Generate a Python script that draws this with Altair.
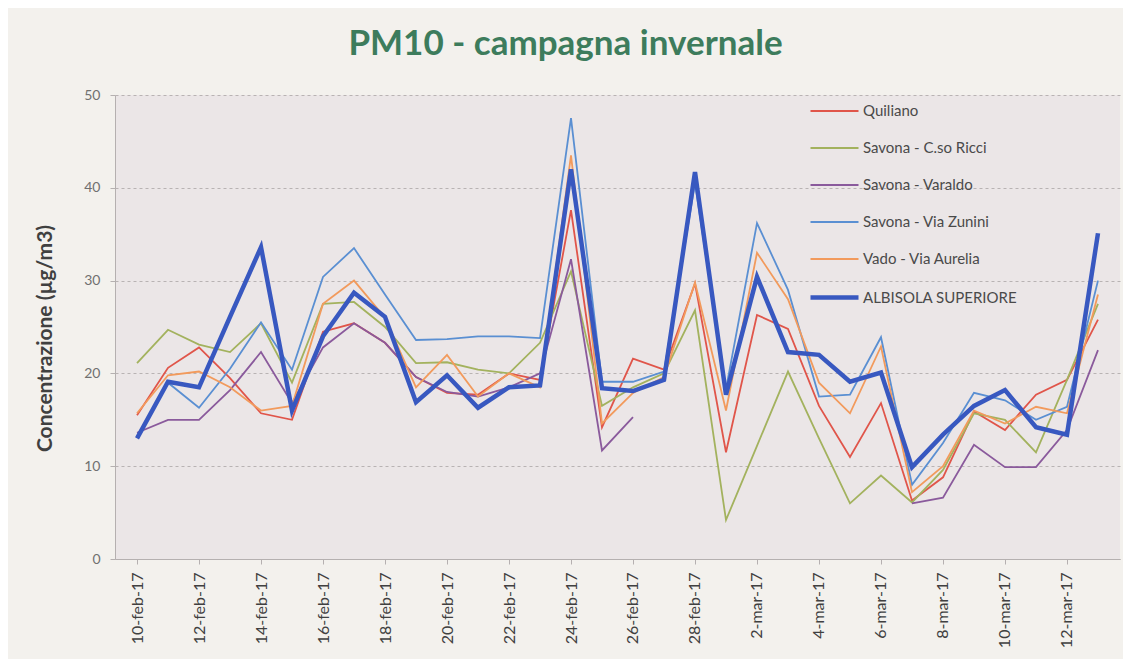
import altair as alt
import pandas as pd

# ---- data -------------------------------------------------------------
date = [f"{d}-feb-17" for d in range(10, 29)] + [f"{d}-mar-17" for d in range(1, 14)]

serie = ["Quiliano", "Savona - C.so Ricci", "Savona - Varaldo",
         "Savona - Via Zunini", "Vado - Via Aurelia", "ALBISOLA SUPERIORE"]

quiliano = [15.5, 20.6, 22.8, 19.5, 15.7, 15.0, 24.5, 25.4, 23.3, 19.6, 17.9, 17.7,
            20.0, 19.3, 37.6, 14.2, 21.6, 20.4, 29.7, 11.5, 26.3, 24.8, 16.5, 11.0,
            16.8, 6.3, 8.8, 15.9, 13.9, 17.7, 19.3, 25.8]
ricci = [21.1, 24.7, 23.1, 22.3, 25.4, 19.0, 27.5, 27.7, 25.0, 21.1, 21.2, 20.4,
         20.0, 23.3, 31.0, 16.5, 18.5, 20.0, 26.8, 4.2, 12.2, 20.2, 13.0, 6.0,
         9.0, 6.1, 9.6, 15.7, 15.0, 11.5, 19.3, 27.5]
varaldo = [13.6, 15.0, 15.0, 18.2, 22.3, 16.8, 22.8, 25.4, 23.3, 19.6, 18.0, 17.5,
           18.5, 20.0, 32.3, 11.7, 15.3, None, None, None, None, None, None, None,
           None, 6.0, 6.6, 12.3, 9.9, 9.9, 13.9, 22.5]
zunini = [13.2, 19.0, 16.3, 20.5, 25.5, 20.4, 30.4, 33.5, 28.5, 23.6, 23.7, 24.0,
          24.0, 23.8, 47.5, 19.1, 19.1, 20.2, 40.5, 18.3, 36.2, 29.0, 17.5, 17.7,
          23.9, 8.0, 12.5, 17.9, 17.1, 15.0, 16.4, 30.0]
vado = [15.7, 19.8, 20.2, 18.5, 16.0, 16.5, 27.5, 30.0, 26.0, 18.5, 22.0, 17.5,
        20.0, 18.5, 43.5, 14.6, 17.9, 19.6, 29.8, 16.0, 33.0, 28.0, 19.0, 15.7,
        22.9, 7.2, 10.0, 16.0, 14.6, 16.4, 15.7, 28.5]
albisola = [13.0, 19.1, 18.5, 26.1, 33.6, 16.0, 24.0, 28.7, 26.1, 16.9, 19.8, 16.3,
            18.5, 18.7, 42.0, 18.4, 18.1, 19.3, 41.7, 17.7, 30.4, 22.3, 22.0, 19.1,
            20.1, 9.9, 13.4, 16.5, 18.2, 14.2, 13.4, 35.1]

colori = ["#e0554a", "#a3b25e", "#8a5a9c", "#5a8fd2", "#f29a5c", "#3858c0"]
spessori = [1.8, 1.8, 1.8, 1.8, 1.8, 4.5]

rows = []
for nome, valori in zip(serie, [quiliano, ricci, varaldo, zunini, vado, albisola]):
    seg = 0
    for d, v in zip(date, valori):
        if v is None:
            seg += 1
            continue
        rows.append({"data": d, "serie": nome, "valore": v, "seg": f"{nome}_{seg}"})
df = pd.DataFrame(rows)

FONT = "Lato"

x = alt.X("data:O", sort=date, title=None,
          scale=alt.Scale(type="point", padding=0.71),
          axis=alt.Axis(values=date[::2], labelAngle=-90, labelFontSize=16,
                        labelColor="#404040", labelFont=FONT, labelPadding=8,
                        tickSize=5, tickColor="#b5b0b0", domainColor="#b5b0b0",
                        grid=False))
y = alt.Y("valore:Q", title="Concentrazione (µg/m3)",
          scale=alt.Scale(domain=[0, 50], nice=False),
          axis=alt.Axis(values=[0, 10, 20, 30, 40, 50], labelFontSize=14,
                        labelColor="#707070", labelFont=FONT, labelPadding=10,
                        tickSize=5, tickColor="#b5b0b0", domainColor="#b5b0b0",
                        grid=True, gridColor="#b8b3b3", gridDash=[3, 3],
                        titleFont=FONT, titleFontSize=21, titleFontWeight="bold",
                        titleColor="#404040", titleAngle=-90, titleX=-70, titleY=243,
                        titleAlign="center", titleBaseline="middle"))
color = alt.Color("serie:O", title=None,
                  scale=alt.Scale(type="ordinal", domain=serie, range=colori),
                  legend=alt.Legend(orient="none", legendX=693, legendY=-9,
                                    symbolType="stroke", symbolSize=2304,
                                    labelFont=FONT, labelFontSize=15,
                                    labelColor="#4a4a4a", labelOffset=2,
                                    rowPadding=4, labelLimit=300))
sw = alt.StrokeWidth("serie:O", title=None,
                     scale=alt.Scale(type="ordinal", domain=serie, range=spessori))

base = alt.Chart(df)
sottili = base.transform_filter(alt.datum.serie != "ALBISOLA SUPERIORE").mark_line().encode(
    x=x, y=y, color=color, strokeWidth=sw, detail="seg:N")
spessa = base.transform_filter(alt.datum.serie == "ALBISOLA SUPERIORE").mark_line().encode(
    x=x, y=y, color=color, strokeWidth=sw, detail="seg:N")

chart = alt.layer(sottili, spessa).properties(
    width=1005, height=464,
    title=alt.TitleParams("PM10 - campagna invernale", font=FONT, fontSize=35,
                          fontWeight="bold", color="#3d7c5c", anchor="middle",
                          dx=-52, offset=24),
    autosize=alt.AutoSizeParams(type="none"),
    padding={"left": 107, "top": 87, "right": 3, "bottom": 100},
    background="#f3f1ed",
).configure_view(fill="#ebe6e7", stroke=None)

chart.save("out.html", embed_options={"renderer": "svg", "actions": False})
